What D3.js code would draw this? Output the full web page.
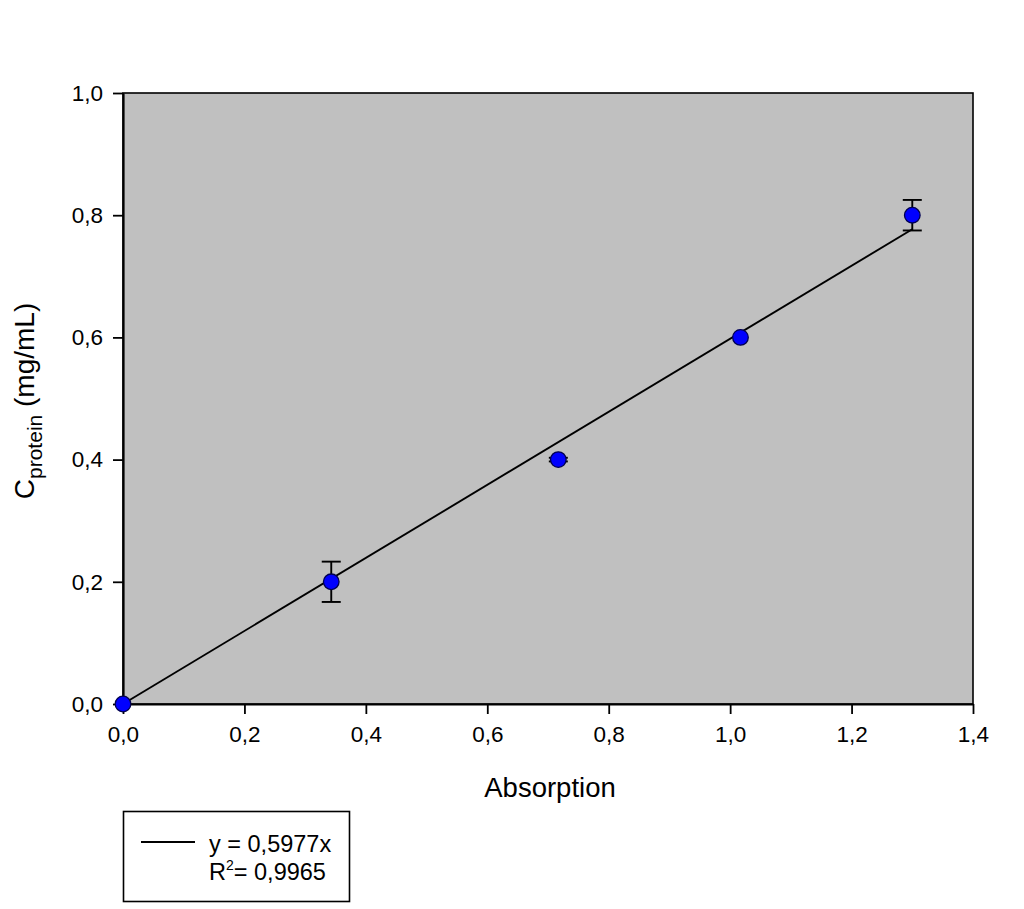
<!DOCTYPE html>
<html><head><meta charset="utf-8">
<script src="https://cdn.jsdelivr.net/npm/d3@7"></script>
<style>body{margin:0;background:#fff;} text{font-family:"Liberation Sans",Arial,sans-serif;}</style>
</head><body>
<svg id="c" width="1024" height="909"></svg>
<script>
const absorption = [0, 0.343, 0.717, 1.017, 1.300];
const concentration = [0, 0.2, 0.4, 0.6, 0.8];
const errors = [0, 0.033, 0.003, 0, 0.025];
const xTicks = [0, 0.2, 0.4, 0.6, 0.8, 1.0, 1.2, 1.4];
const yTicks = [0, 0.2, 0.4, 0.6, 0.8, 1.0];
const slope = 0.5977;
const legendLines = ["y = 0,5977x", "R²= 0,9965"];

const svg = d3.select("#c");
const L = 123, R = 973, T = 93, B = 704;
const x = d3.scaleLinear().domain([0, 1.4]).range([L, R]);
const y = d3.scaleLinear().domain([0, 1.0]).range([B, T]);
const fmt = d => d3.format(".1f")(d).replace(".", ",");

svg.append("rect").attr("x", L).attr("y", T).attr("width", R - L).attr("height", B - T)
  .attr("fill", "#c0c0c0").attr("stroke", "#000").attr("stroke-width", 1.6);

const xa = svg.append("g").attr("transform", `translate(0,${B})`)
  .call(d3.axisBottom(x).tickValues(xTicks).tickFormat(fmt).tickSize(10).tickSizeOuter(0).tickPadding(12));
const ya = svg.append("g").attr("transform", `translate(${L},0)`)
  .call(d3.axisLeft(y).tickValues(yTicks).tickFormat(fmt).tickSize(10).tickSizeOuter(0).tickPadding(10));
[xa, ya].forEach(a => {
  a.selectAll("path").attr("stroke", "#000").attr("stroke-width", 2.2);
  a.selectAll("line").attr("stroke", "#000").attr("stroke-width", 1.8);
  a.selectAll("text").attr("font-size", 22.5).attr("fill", "#000")
    .style("font-family", '"Liberation Sans",Arial,sans-serif');
});

// regression line
const xmax = d3.max(absorption);
svg.append("line").attr("x1", x(0)).attr("y1", y(0)).attr("x2", x(xmax)).attr("y2", y(slope * xmax))
  .attr("stroke", "#000").attr("stroke-width", 1.9);

// error bars
const eb = svg.append("g").attr("stroke", "#000").attr("stroke-width", 1.9);
absorption.forEach((a, i) => {
  const e = errors[i];
  if (e <= 0) return;
  const cx = x(a), y1 = y(concentration[i] + e), y2 = y(concentration[i] - e);
  eb.append("line").attr("x1", cx).attr("x2", cx).attr("y1", y1).attr("y2", y2);
  eb.append("line").attr("x1", cx - 9.5).attr("x2", cx + 9.5).attr("y1", y1).attr("y2", y1);
  eb.append("line").attr("x1", cx - 9.5).attr("x2", cx + 9.5).attr("y1", y2).attr("y2", y2);
});

// points
svg.append("g").selectAll("circle").data(absorption).join("circle")
  .attr("cx", d => x(d)).attr("cy", (d, i) => y(concentration[i])).attr("r", 7.8)
  .attr("fill", "#0000ff").attr("stroke", "#000050").attr("stroke-width", 1.3);

// axis titles
svg.append("text").attr("x", 550).attr("y", 797).attr("text-anchor", "middle")
  .attr("font-size", 27.5).text("Absorption");
const yl = svg.append("text").attr("transform", "translate(34,401) rotate(-90)")
  .attr("text-anchor", "middle").attr("font-size", 28);
yl.append("tspan").text("C");
yl.append("tspan").attr("font-size", 21).attr("dy", 8).text("protein");
yl.append("tspan").attr("dy", -8).text(" (mg/mL)");

// legend
svg.append("rect").attr("x", 123.5).attr("y", 811.5).attr("width", 226).attr("height", 90)
  .attr("fill", "#fff").attr("stroke", "#000").attr("stroke-width", 1.6);
svg.append("line").attr("x1", 141).attr("x2", 195).attr("y1", 842).attr("y2", 842)
  .attr("stroke", "#000").attr("stroke-width", 1.8);
const lt = svg.append("g").attr("font-size", 23.5);
lt.append("text").attr("x", 209).attr("y", 852).text(legendLines[0]);
const t2 = lt.append("text").attr("x", 209).attr("y", 880);
t2.append("tspan").text("R");
t2.append("tspan").attr("font-size", 14).attr("dy", -10).text("2");
t2.append("tspan").attr("dy", 10).text("= 0,9965");
</script>
</body></html>
